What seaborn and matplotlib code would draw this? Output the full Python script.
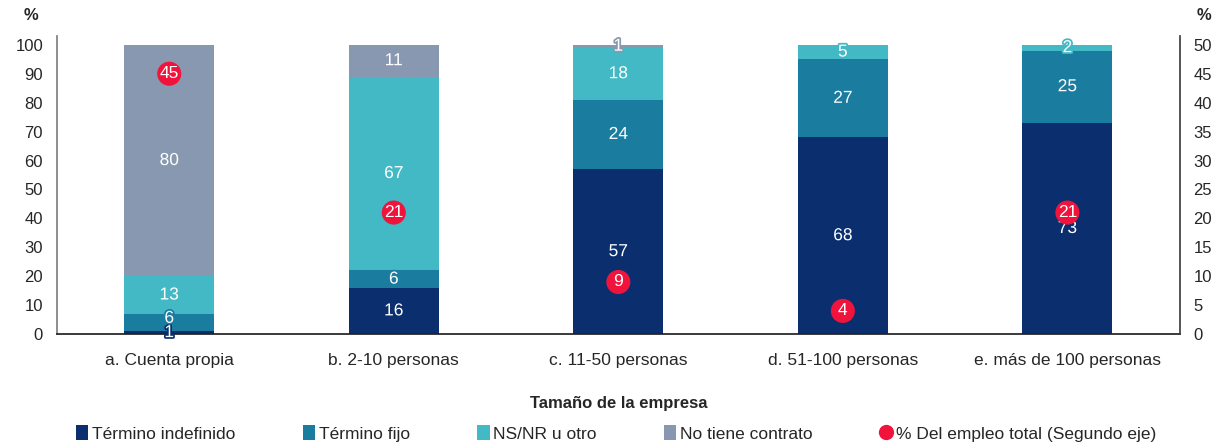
import numpy as np
import pandas as pd
import matplotlib
matplotlib.use('Agg')
import matplotlib.pyplot as plt
import matplotlib.patheffects as pe
from matplotlib.patches import Patch
from matplotlib.lines import Line2D
import seaborn as sns

# data
categories = ['a. Cuenta propia', 'b. 2-10 personas', 'c. 11-50 personas',
              'd. 51-100 personas', 'e. más de 100 personas']
indefinido = [1, 16, 57, 68, 73]
fijo = [6, 6, 24, 27, 25]
nsnr = [13, 67, 18, 5, 2]
sin_contrato = [80, 11, 1, 0, 0]
empleo_total = [45, 21, 9, 4, 21]

series_names = ['Término indefinido', 'Término fijo', 'NS/NR u otro', 'No tiene contrato']
colors = ['#0b2f6e', '#1a7c9f', '#42b9c5', '#8898b0']
red = '#f0143c'

sns.set_theme(style='white')
plt.rcParams['font.family'] = ['Liberation Sans', 'DejaVu Sans']

layers = np.array([indefinido, fijo, nsnr, sin_contrato], dtype=float)
cum = np.cumsum(layers, axis=0)

fig = plt.figure(figsize=(12.25, 4.46), dpi=100)
ax = fig.add_axes([0.0465, 0.251, 0.9165, 0.668])

# stacked bars: draw cumulative totals from the top layer down
for i in range(3, -1, -1):
    sns.barplot(x=categories, y=cum[i], color=colors[i], width=0.4,
                linewidth=0, saturation=1, ax=ax, order=categories)

# segment labels (nudge up when the segment below is tiny)
for j in range(len(categories)):
    for i in range(4):
        v = layers[i, j]
        if v <= 0:
            continue
        mid = cum[i, j] - v / 2
        dy = 3 if (i > 0 and layers[i - 1, j] < 3 and v < 10) else 0
        ax.annotate(f'{int(v)}', (j, mid), xytext=(0, dy), textcoords='offset points',
                    ha='center', va='center', color='white', fontsize=12.5,
                    path_effects=[pe.withStroke(linewidth=2.5, foreground=colors[i])])

ax.set_ylim(0, 103)
ax.set_xlim(-0.5, len(categories) - 0.5)
ax.set_yticks(np.arange(0, 101, 10))
ax.tick_params(axis='y', labelsize=12, length=0, pad=10)
ax.tick_params(axis='x', labelsize=12.5, length=0, pad=14)
ax.set_ylabel('')
ax.set_xlabel('Tamaño de la empresa', fontsize=12, fontweight='bold', labelpad=20)
for s in ['top', 'right']:
    ax.spines[s].set_visible(False)
ax.spines['left'].set_color('#808080')
ax.spines['bottom'].set_color('#222222')

# secondary axis: share of total employment
ax2 = ax.twinx()
sns.scatterplot(x=np.arange(len(categories)), y=empleo_total, color=red, s=300,
                edgecolor='none', ax=ax2, zorder=5, legend=False)
for j, v in enumerate(empleo_total):
    ax2.text(j, v, f'{v}', ha='center', va='center', color='white', fontsize=12.5, zorder=6)
ax2.set_ylim(0, 51.5)
ax2.set_yticks(np.arange(0, 51, 5))
ax2.tick_params(axis='y', labelsize=12, length=0, pad=10)
ax2.set_ylabel('')
for s in ['top', 'left', 'bottom']:
    ax2.spines[s].set_visible(False)
ax2.spines['right'].set_color('#404040')

fig.text(0.025, 0.965, '%', fontsize=12, fontweight='bold', ha='center', va='center')
fig.text(0.983, 0.965, '%', fontsize=12, fontweight='bold', ha='center', va='center')

handles = [Patch(facecolor=c, edgecolor='none') for c in colors]
handles.append(Line2D([], [], marker='o', linestyle='none', markersize=11,
                      markerfacecolor=red, markeredgecolor='none'))
labels = series_names + ['% Del empleo total (Segundo eje)']
fig.legend(handles, labels, loc='lower center', bbox_to_anchor=(0.503, -0.025), ncol=5,
           frameon=False, fontsize=12.5, handlelength=0.7, handleheight=0.9,
           handletextpad=0.2, columnspacing=3.9)

fig.savefig('out.png', dpi=100)
